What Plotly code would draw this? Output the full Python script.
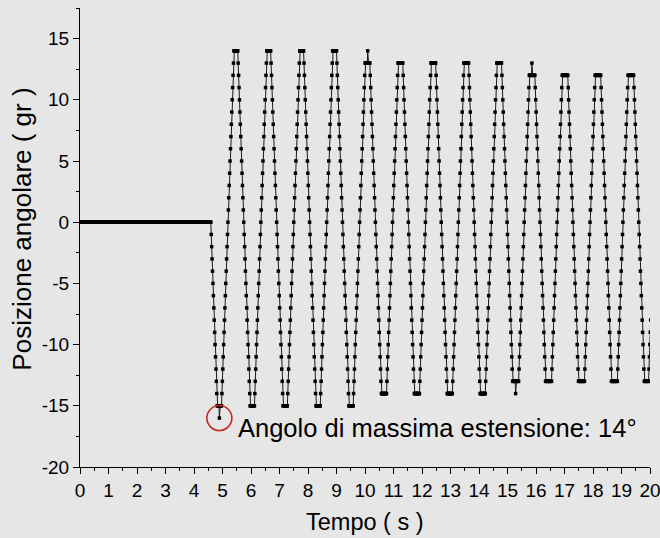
import plotly.graph_objects as go

# ---------------- data ----------------
SAMPLE_PERIOD_S = 0.015  # uniform sampling grid of the recording

# arm at rest (0 gr) for the first ~4.6 s
rest_angle = [
    0, 0, 0, 0, 0, 0, 0, 0, 0, 0, 0, 0, 0, 0, 0, 0, 0, 0, 0, 0,
    0, 0, 0, 0, 0, 0, 0, 0, 0, 0, 0, 0, 0, 0, 0, 0, 0, 0, 0, 0,
    0, 0, 0, 0, 0, 0, 0, 0, 0, 0, 0, 0, 0, 0, 0, 0, 0, 0, 0, 0,
    0, 0, 0, 0, 0, 0, 0, 0, 0, 0, 0, 0, 0, 0, 0, 0, 0, 0, 0, 0,
    0, 0, 0, 0, 0, 0, 0, 0, 0, 0, 0, 0, 0, 0, 0, 0, 0, 0, 0, 0,
    0, 0, 0, 0, 0, 0, 0, 0, 0, 0, 0, 0, 0, 0, 0, 0, 0, 0, 0, 0,
    0, 0, 0, 0, 0, 0, 0, 0, 0, 0, 0, 0, 0, 0, 0, 0, 0, 0, 0, 0,
    0, 0, 0, 0, 0, 0, 0, 0, 0, 0, 0, 0, 0, 0, 0, 0, 0, 0, 0, 0,
    0, 0, 0, 0, 0, 0, 0, 0, 0, 0, 0, 0, 0, 0, 0, 0, 0, 0, 0, 0,
    0, 0, 0, 0, 0, 0, 0, 0, 0, 0, 0, 0, 0, 0, 0, 0, 0, 0, 0, 0,
    0, 0, 0, 0, 0, 0, 0, 0, 0, 0, 0, 0, 0, 0, 0, 0, 0, 0, 0, 0,
    0, 0, 0, 0, 0, 0, 0, 0, 0, 0, 0, 0, 0, 0, 0, 0, 0, 0, 0, 0,
    0, 0, 0, 0, 0, 0, 0, 0, 0, 0, 0, 0, 0, 0, 0, 0, 0, 0, 0, 0,
    0, 0, 0, 0, 0, 0, 0, 0, 0, 0, 0, 0, 0, 0, 0, 0, 0, 0, 0, 0,
    0, 0, 0, 0, 0, 0, 0, 0, 0, 0, 0, 0, 0, 0, 0, 0, 0, 0, 0, 0,
    0, 0, 0, 0, 0, 0, 0,
]

# oscillation (integer degrees, one value per sample)
swing_angle = [
    -1, -2, -3, -4, -5, -6, -7, -8, -9, -10, -11, -12, -13, -14,
    -15, -15, -15, -15, -15, -16, -15, -15, -15, -15, -15,
    -14, -13, -12, -11, -10, -9, -8, -7, -6, -5, -4, -3, -2, -1, 0, 1, 2, 3, 4, 5, 6, 7, 8, 9, 10, 11, 12, 13,
    14, 14, 14, 14, 14, 14, 14, 14, 14, 14,
    13, 12, 11, 10, 9, 8, 7, 6, 5, 4, 3, 2, 1, 0, -1, -2, -3, -4, -5, -6, -7, -8, -9, -10, -11, -12, -13, -14,
    -15, -15, -15, -15, -15, -15, -15, -15, -15, -15, -15,
    -14, -13, -12, -11, -10, -9, -8, -7, -6, -5, -4, -3, -2, -1, 0, 1, 2, 3, 4, 5, 6, 7, 8, 9, 10, 11, 12, 13,
    14, 14, 14, 14, 14, 14, 14, 14, 14, 14,
    13, 12, 11, 10, 9, 8, 7, 6, 5, 4, 3, 2, 1, 0, -1, -2, -3, -4, -5, -6, -7, -8, -9, -10, -11, -12, -13, -14,
    -15, -15, -15, -15, -15, -15, -15, -15, -15, -15, -15,
    -14, -13, -12, -11, -10, -9, -8, -7, -6, -5, -4, -3, -2, -1, 0, 1, 2, 3, 4, 5, 6, 7, 8, 9, 10, 11, 12, 13,
    14, 14, 14, 14, 14, 14, 14, 14, 14, 14,
    13, 12, 11, 10, 9, 8, 7, 6, 5, 4, 3, 2, 1, 0, -1, -2, -3, -4, -5, -6, -7, -8, -9, -10, -11, -12, -13, -14,
    -15, -15, -15, -15, -15, -15, -15, -15, -15, -15, -15,
    -14, -13, -12, -11, -10, -9, -8, -7, -6, -5, -4, -3, -2, -1, 0, 1, 2, 3, 4, 5, 6, 7, 8, 9, 10, 11, 12, 13,
    14, 14, 14, 14, 14, 14, 14, 14, 14, 14,
    13, 12, 11, 10, 9, 8, 7, 6, 5, 4, 3, 2, 1, 0, -1, -2, -3, -4, -5, -6, -7, -8, -9, -10, -11, -12, -13, -14,
    -15, -15, -15, -15, -15, -15, -15, -15, -15, -15, -15,
    -14, -13, -12, -11, -10, -9, -8, -7, -6, -5, -4, -3, -2, -1, 0, 1, 2, 3, 4, 5, 6, 7, 8, 9, 10, 11, 12,
    13, 13, 13, 13, 13, 13, 14, 13, 13, 13, 13, 13,
    12, 11, 10, 9, 8, 7, 6, 5, 4, 3, 2, 1, 0, -1, -2, -3, -4, -5, -6, -7, -8, -9, -10, -11, -12, -13,
    -14, -14, -14, -14, -14, -14, -14, -14, -14, -14, -14, -14, -14,
    -13, -12, -11, -10, -9, -8, -7, -6, -5, -4, -3, -2, -1, 0, 1, 2, 3, 4, 5, 6, 7, 8, 9, 10, 11, 12,
    13, 13, 13, 13, 13, 13, 13, 13, 13, 13, 13, 13,
    12, 11, 10, 9, 8, 7, 6, 5, 4, 3, 2, 1, 0, -1, -2, -3, -4, -5, -6, -7, -8, -9, -10, -11, -12, -13,
    -14, -14, -14, -14, -14, -14, -14, -14, -14, -14, -14, -14, -14,
    -13, -12, -11, -10, -9, -8, -7, -6, -5, -4, -3, -2, -1, 0, 1, 2, 3, 4, 5, 6, 7, 8, 9, 10, 11, 12,
    13, 13, 13, 13, 13, 13, 13, 13, 13, 13, 13, 13,
    12, 11, 10, 9, 8, 7, 6, 5, 4, 3, 2, 1, 0, -1, -2, -3, -4, -5, -6, -7, -8, -9, -10, -11, -12, -13,
    -14, -14, -14, -14, -14, -14, -14, -14, -14, -14, -14, -14, -14,
    -13, -12, -11, -10, -9, -8, -7, -6, -5, -4, -3, -2, -1, 0, 1, 2, 3, 4, 5, 6, 7, 8, 9, 10, 11, 12,
    13, 13, 13, 13, 13, 13, 13, 13, 13, 13, 13, 13,
    12, 11, 10, 9, 8, 7, 6, 5, 4, 3, 2, 1, 0, -1, -2, -3, -4, -5, -6, -7, -8, -9, -10, -11, -12, -13,
    -14, -14, -14, -14, -14, -14, -14, -14, -14, -14, -14, -14, -14,
    -13, -12, -11, -10, -9, -8, -7, -6, -5, -4, -3, -2, -1, 0, 1, 2, 3, 4, 5, 6, 7, 8, 9, 10, 11, 12,
    13, 13, 13, 13, 13, 13, 13, 13, 13, 13, 13, 13,
    12, 11, 10, 9, 8, 7, 6, 5, 4, 3, 2, 1, 0, -1, -2, -3, -4, -5, -6, -7, -8, -9, -10, -11, -12,
    -13, -13, -13, -13, -13, -13, -13, -14, -13, -13, -13, -13, -13, -13, -13,
    -12, -11, -10, -9, -8, -7, -6, -5, -4, -3, -2, -1, 0, 1, 2, 3, 4, 5, 6, 7, 8, 9, 10, 11,
    12, 12, 12, 12, 12, 12, 13, 12, 12, 12, 12, 12, 12, 12,
    11, 10, 9, 8, 7, 6, 5, 4, 3, 2, 1, 0, -1, -2, -3, -4, -5, -6, -7, -8, -9, -10, -11, -12,
    -13, -13, -13, -13, -13, -13, -13, -13, -13, -13, -13, -13, -13, -13, -13,
    -12, -11, -10, -9, -8, -7, -6, -5, -4, -3, -2, -1, 0, 1, 2, 3, 4, 5, 6, 7, 8, 9, 10, 11,
    12, 12, 12, 12, 12, 12, 12, 12, 12, 12, 12, 12, 12, 12,
    11, 10, 9, 8, 7, 6, 5, 4, 3, 2, 1, 0, -1, -2, -3, -4, -5, -6, -7, -8, -9, -10, -11, -12,
    -13, -13, -13, -13, -13, -13, -13, -13, -13, -13, -13, -13, -13, -13, -13,
    -12, -11, -10, -9, -8, -7, -6, -5, -4, -3, -2, -1, 0, 1, 2, 3, 4, 5, 6, 7, 8, 9, 10, 11,
    12, 12, 12, 12, 12, 12, 12, 12, 12, 12, 12, 12, 12, 12,
    11, 10, 9, 8, 7, 6, 5, 4, 3, 2, 1, 0, -1, -2, -3, -4, -5, -6, -7, -8, -9, -10, -11, -12,
    -13, -13, -13, -13, -13, -13, -13, -13, -13, -13, -13, -13, -13, -13, -13,
    -12, -11, -10, -9, -8, -7, -6, -5, -4, -3, -2, -1, 0, 1, 2, 3, 4, 5, 6, 7, 8, 9, 10, 11,
    12, 12, 12, 12, 12, 12, 12, 12, 12, 12, 12, 12, 12, 12,
    11, 10, 9, 8, 7, 6, 5, 4, 3, 2, 1, 0, -1, -2, -3, -4, -5, -6, -7, -8, -9, -10, -11, -12,
    -13, -13, -13, -13, -13, -13, -13, -13, -13, -13, -13,
    -12, -11, -10, -9, -8,
]

x_tick_values = list(range(0, 21))
x_tick_labels = [str(v) for v in x_tick_values]
y_tick_values = [-20, -15, -10, -5, 0, 5, 10, 15]
y_tick_labels = ["-20", "-15", "-10", "-5", "0", "5", "10", "15"]

x_title = "Tempo ( s )"
y_title = "Posizione angolare ( gr )"
note_text = "Angolo di massima estensione: 14°"

# ---------------- figure ----------------
angle = rest_angle + swing_angle
time_s = [i * SAMPLE_PERIOD_S for i in range(len(angle))]

FONT = "Arial, Liberation Sans, sans-serif"
BG = "#e6e6e6"

fig = go.Figure()
fig.add_trace(go.Scatter(
    x=time_s, y=angle, mode="lines+markers",
    line=dict(color="#1a1a1a", width=1),
    marker=dict(symbol="square", size=3.5, color="black", line=dict(width=0)),
    showlegend=False, hoverinfo="x+y",
))

# highlight the minimum point
i_min = min(range(len(angle)), key=lambda i: angle[i])
fig.add_shape(
    type="circle", xref="x", yref="y",
    xsizemode="pixel", ysizemode="pixel",
    xanchor=time_s[i_min], yanchor=angle[i_min],
    x0=-12.5, x1=12.5, y0=-12.5, y1=12.5,
    line=dict(color="#c62a1f", width=1.6),
)
fig.add_annotation(
    x=time_s[i_min], y=angle[i_min], xref="x", yref="y",
    text=note_text, showarrow=False,
    xanchor="left", yanchor="middle", xshift=17, yshift=-10,
    font=dict(family=FONT, size=25.5, color="black"),
)

# axis titles
fig.add_annotation(
    x=0.5, y=-0.12, xref="paper", yref="paper", text=x_title, showarrow=False,
    xanchor="center", yanchor="middle", font=dict(family=FONT, size=23.5, color="black"),
)
fig.add_annotation(
    x=-0.102, y=0.519, xref="paper", yref="paper", text=y_title, showarrow=False,
    textangle=-90, xanchor="center", yanchor="middle",
    font=dict(family=FONT, size=26, color="black"),
)

axis_common = dict(
    ticks="outside", ticklen=6, tickwidth=1, tickcolor="black",
    showline=True, linecolor="black", linewidth=1,
    showgrid=False, zeroline=False, automargin=False,
    tickfont=dict(family=FONT, size=19, color="black"),
)
fig.update_xaxes(
    range=[0, 20], tickmode="array", tickvals=x_tick_values, ticktext=x_tick_labels,
    minor=dict(dtick=0.5, tick0=0, ticks="outside", ticklen=3, tickwidth=1, tickcolor="black"),
    ticklabeloverflow="allow", **axis_common,
)
fig.update_yaxes(
    range=[-20, 17.5], tickmode="array", tickvals=y_tick_values, ticktext=y_tick_labels,
    minor=dict(dtick=2.5, tick0=0, ticks="outside", ticklen=3, tickwidth=1, tickcolor="black"),
    **axis_common,
)

fig.update_layout(
    width=660, height=538,
    margin=dict(l=80, r=10, t=8, b=71),
    paper_bgcolor=BG, plot_bgcolor=BG,
    font=dict(family=FONT, color="black"),
)

fig.write_html(
    "out.html",
    config={"displayModeBar": False},
    post_script="document.body.style.margin='0';document.body.style.background='" + BG + "';",
)
